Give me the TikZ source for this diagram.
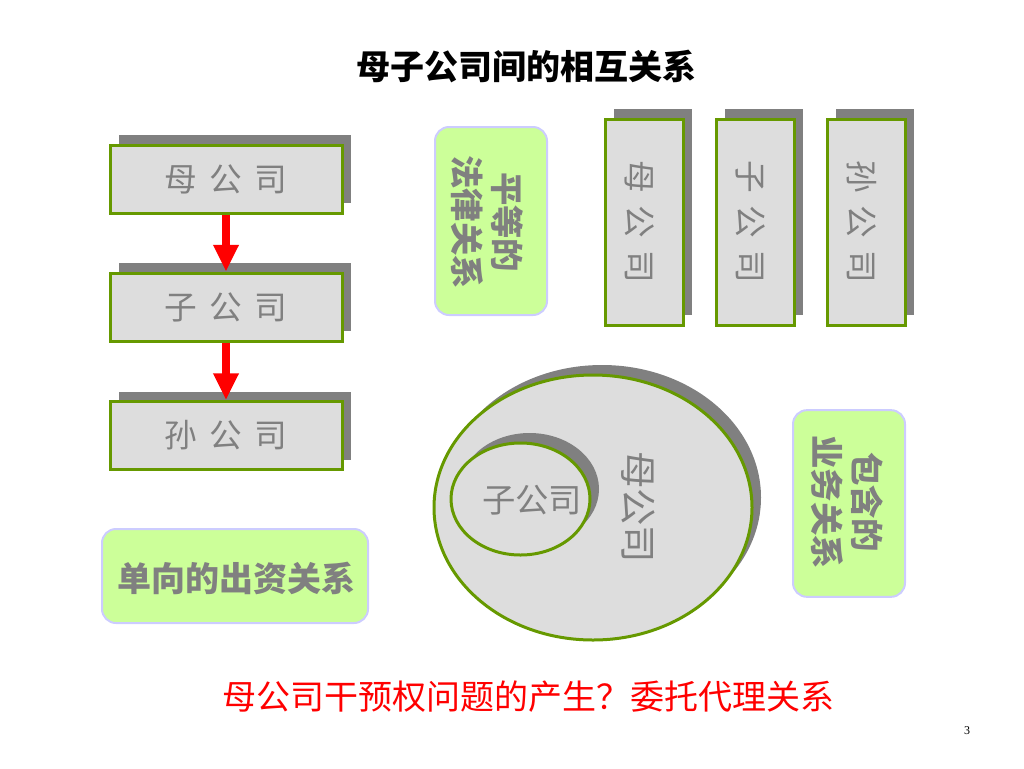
\documentclass[tikz,border=0pt]{standalone}
\usepackage{fontspec}
\setmainfont{Liberation Serif}
\newfontfamily\cjk{Noto Sans CJK SC}
\newfontfamily\cjksp{Noto Sans CJK SC}[WordSpace=1.7]
\usetikzlibrary{shapes.geometric,shadows,arrows.meta}
\definecolor{boxfill}{HTML}{DDDDDD}
\definecolor{oliveg}{HTML}{669900}
\definecolor{shadowgray}{HTML}{808080}
\definecolor{txtgray}{HTML}{808080}
\definecolor{lgreen}{HTML}{CCFF99}
\definecolor{lav}{HTML}{CCCCFF}
\definecolor{pured}{HTML}{FF0000}
\begin{document}
\begin{tikzpicture}[x=0.75pt,y=-0.75pt,
  cobox/.style={draw=oliveg, line width=2.25pt, fill=boxfill, inner sep=0pt,
    general shadow={fill=shadowgray, shadow xshift=6.75pt, shadow yshift=7.5pt}},
  hbox/.style={cobox, minimum width=174pt, minimum height=51pt},
  vbox/.style={cobox, minimum width=58.5pt, minimum height=154.5pt},
  greenbox/.style={draw=lav, line width=1.5pt, fill=lgreen, rounded corners=10.5pt, inner sep=0pt},
  lighttxt/.style={text=txtgray, font=\cjksp\fontsize{24.5}{28}\selectfont, inner sep=0pt},
  boldtxt/.style={text=txtgray, font=\cjk\bfseries\fontsize{25}{30}\selectfont, inner sep=0pt, align=center},
  redarrow/.style={draw=pured, line width=6pt, -{Triangle[width=18pt,length=20pt]}}
]
\useasboundingbox (0,0) rectangle (1024,768);

% title
\node[font=\cjk\bfseries\fontsize{25.5}{30}\selectfont, inner sep=0pt] (title) at (526,66) {母子公司间的相互关系};

% left chain
\node[hbox, lighttxt] (m1) at (226,179) {母 公 司};
\node[hbox, lighttxt] (m2) at (226,307) {子 公 司};
\node[hbox, lighttxt] (m3) at (226,435.5) {孙 公 司};
\draw[redarrow] (m1.south) -- (m2.north);
\draw[redarrow] (m2.south) -- (m3.north);

% left relation label
\node[greenbox, minimum width=199.5pt, minimum height=70.5pt] (g3) at (235,576) {};
\node[boldtxt, font=\cjk\bfseries\fontsize{25.5}{30}\selectfont] (g3t) at (236.5,578) {单向的出资关系};

% equal legal relation
\node[greenbox, minimum width=84pt, minimum height=141pt] (g1) at (491,221) {};
\node[boldtxt, rotate=-90] (g1t) at (487,222) {平等的\\法律关系};

% three vertical boxes
\node[vbox] (v1) at (644,222) {};
\node[vbox] (v2) at (755,222) {};
\node[vbox] (v3) at (866,222) {};
\node[lighttxt, rotate=-90] (v1t) at (640,222) {母 公 司};
\node[lighttxt, rotate=-90] (v2t) at (751,222) {子 公 司};
\node[lighttxt, rotate=-90] (v3t) at (862,222) {孙 公 司};

% ellipses
\node[cobox, ellipse, minimum width=238.5pt, minimum height=198.75pt] (outer) at (593,507.5) {};
\node[cobox, ellipse, minimum width=104.25pt, minimum height=84pt] (inner) at (520.5,499) {};
\node[lighttxt, font=\cjk\fontsize{25}{30}\selectfont] (innert) at (532,500) {子公司};
\node[lighttxt, font=\cjk\fontsize{28}{30}\selectfont, rotate=-90] (outert) at (638,507) {母公司};

% inclusive business relation
\node[greenbox, minimum width=84pt, minimum height=140pt] (g2) at (849,503.5) {};
\node[boldtxt, rotate=-90] (g2t) at (847,502) {包含的\\业务关系};

% bottom line
\node[text=pured, font=\cjk\fontsize{25.5}{30}\selectfont, inner sep=0pt] (bottom) at (528,697) {母公司干预权问题的产生？委托代理关系};

% page number
\node[font=\fontsize{9}{11}\selectfont, inner sep=0pt] (pg) at (967,731) {3};
\end{tikzpicture}
\end{document}
